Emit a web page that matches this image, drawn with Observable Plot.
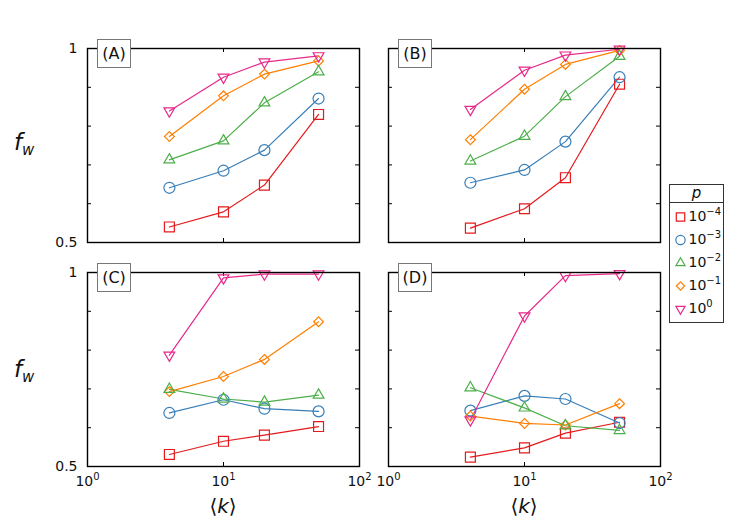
<!DOCTYPE html>
<html>
<head>
<meta charset="utf-8">
<script src="https://cdn.jsdelivr.net/npm/d3@7"></script>
<script src="https://cdn.jsdelivr.net/npm/@observablehq/plot@0.6"></script>
<style>
  body { margin: 0; background: #fff; }
  #fig { position: relative; width: 748px; height: 525px; background: #fff; font-family: "DejaVu Sans", sans-serif; overflow: hidden; }
  .panel { position: absolute; }
  .tag { position: absolute; box-sizing: border-box; width: 34px; height: 29px; border: 1.5px solid #777; background: #fff;
         font-size: 16px; display: flex; align-items: center; justify-content: center; color: #111; }
  .ylab { position: absolute; font-size: 23px; line-height: 1; color: #111; }
  .ylab i { font-style: italic; }
  .ylab sub { font-style: italic; font-size: 15px; vertical-align: -5px; }
  .xlab { position: absolute; font-size: 20px; line-height: 1; color: #111; transform: translateX(-50%); white-space: nowrap; }
  .xlab i { font-style: italic; }
  #legend { position: absolute; left: 669px; top: 184px; width: 55px; box-sizing: border-box; border: 1px solid #333; background: #fff; }
  #legend .ttl { height: 17px; border-bottom: 1px solid #333; text-align: center; font-style: italic; font-size: 15px; line-height: 16px; color: #111; }
</style>
</head>
<body>
<div id="fig"></div>
<script>
// ---- data ----
const kValues = [4, 10, 20, 50];
const pLabels = ["10⁻⁴", "10⁻³", "10⁻²", "10⁻¹", "10⁰"];
const panelNames = ["(A)", "(B)", "(C)", "(D)"];
const yTicks = [0.6, 0.7, 0.8, 0.9];
const yLabelTicks = [0.5, 1];
const xLabelTicks = [1, 10, 100];
const xTickLabels = ["10⁰", "10¹", "10²"];
const xInnerTicks = [10];

// rows: p = 1e-4, 1e-3, 1e-2, 1e-1, 1e0 ; columns: k = 4, 10, 20, 50
const panelA = [
  [0.540, 0.579, 0.648, 0.830],
  [0.641, 0.685, 0.738, 0.871],
  [0.713, 0.762, 0.860, 0.940],
  [0.773, 0.878, 0.934, 0.968],
  [0.839, 0.926, 0.965, 0.981]
];
const panelB = [
  [0.537, 0.587, 0.667, 0.908],
  [0.654, 0.687, 0.760, 0.926],
  [0.710, 0.774, 0.876, 0.980],
  [0.765, 0.895, 0.959, 0.995],
  [0.843, 0.944, 0.983, 0.998]
];
const panelC = [
  [0.531, 0.565, 0.581, 0.603],
  [0.638, 0.672, 0.649, 0.642],
  [0.699, 0.674, 0.666, 0.684],
  [0.693, 0.732, 0.776, 0.873],
  [0.787, 0.986, 0.996, 0.996]
];
const panelD = [
  [0.524, 0.548, 0.586, 0.614],
  [0.644, 0.682, 0.674, 0.612],
  [0.703, 0.651, 0.605, 0.593],
  [0.630, 0.611, 0.607, 0.662],
  [0.620, 0.888, 0.992, 0.997]
];

const colors = ["#e41a1c", "#377eb8", "#4daf4a", "#ff7f00", "#e7298a"];
const markerR = [5.6, 5.5, 4.0, 4.4, 4.0];

const sqrt3 = Math.sqrt(3);
const triangleDown = {
  draw(context, size) {
    const y = -Math.sqrt(size / (sqrt3 * 3));
    context.moveTo(0, -y * 2);
    context.lineTo(-sqrt3 * y, y);
    context.lineTo(sqrt3 * y, y);
    context.closePath();
  }
};
const symbols = ["square", "circle", "triangle", "diamond2", triangleDown];

function tidy(rows) {
  return rows.flatMap((vals, i) => vals.map((fw, j) => ({k: kValues[j], fw, p: pLabels[i], r: markerR[i]})));
}

const supMap = {"⁻": "−", "⁰": "0", "¹": "1", "²": "2", "³": "3", "⁴": "4", "⁵": "5", "⁶": "6", "⁷": "7", "⁸": "8", "⁹": "9"};
function supify(root, dy, size) {
  root.querySelectorAll("text").forEach(t => {
    const m = t.textContent.match(/^10([⁻⁰¹²³⁴⁵⁶⁷⁸⁹]+)$/);
    if (!m) return;
    t.textContent = "10";
    const ts = document.createElementNS("http://www.w3.org/2000/svg", "tspan");
    ts.setAttribute("dy", String(dy));
    ts.setAttribute("font-size", String(size));
    ts.textContent = [...m[1]].map(c => supMap[c]).join("");
    t.appendChild(ts);
  });
}

const fig = document.getElementById("fig");
const FW = 272, FH = 194;

function panel(rows, {left, top, width, height, mL, mR, mT, mB, showY, showX}) {
  const data = tidy(rows);
  const marks = [
    Plot.tickY(yTicks, {y: d => d, insetRight: FW - 4, stroke: "#000", strokeWidth: 1}),
    Plot.tickY(yTicks, {y: d => d, insetLeft: FW - 4, stroke: "#000", strokeWidth: 1}),
    Plot.tickX(xInnerTicks, {x: d => d, insetTop: FH - 4, stroke: "#000", strokeWidth: 1}),
    Plot.tickX(xInnerTicks, {x: d => d, insetBottom: FH - 4, stroke: "#000", strokeWidth: 1}),
    Plot.line(data, {x: "k", y: "fw", z: "p", stroke: "p", strokeWidth: 1.2}),
    Plot.dot(data, {x: "k", y: "fw", symbol: "p", stroke: "p", r: "r", strokeWidth: 1.2, fill: "none"}),
    Plot.frame({stroke: "#000", strokeWidth: 1.4})
  ];
  if (showY) marks.push(Plot.axisY(yLabelTicks, {anchor: "left", label: null, tickSize: 0, tickPadding: 10, tickFormat: d => String(d), fontSize: 14, fill: "#111"}));
  if (showX) marks.push(Plot.axisX(xLabelTicks, {anchor: "bottom", label: null, tickSize: 0, tickPadding: 10, tickFormat: d => xTickLabels[xLabelTicks.indexOf(d)], fontSize: 14, fill: "#111"}));
  const svg = Plot.plot({
    width, height,
    marginLeft: mL, marginRight: mR, marginTop: mT, marginBottom: mB,
    x: {type: "log", domain: [1, 100], axis: null},
    y: {domain: [0.5, 1], axis: null},
    r: {type: "identity"},
    color: {domain: pLabels, range: colors},
    symbol: {domain: pLabels, range: symbols},
    style: {fontFamily: "DejaVu Sans", fontSize: "14px", background: "transparent", overflow: "visible"},
    marks
  });
  supify(svg, -6, 10);
  svg.classList.add("panel");
  svg.style.left = left + "px";
  svg.style.top = top + "px";
  fig.appendChild(svg);
}

panel(panelA, {left: 0, top: 0, width: 374, height: 250, mL: 87, mR: 15, mT: 48, mB: 8, showY: true, showX: false});
panel(panelB, {left: 374, top: 0, width: 300, height: 250, mL: 14, mR: 14, mT: 48, mB: 8, showY: false, showX: false});
panel(panelC, {left: 0, top: 250, width: 374, height: 275, mL: 87, mR: 15, mT: 22, mB: 59, showY: true, showX: true});
panel(panelD, {left: 374, top: 250, width: 300, height: 275, mL: 14, mR: 14, mT: 22, mB: 59, showY: false, showX: true});

// panel tags
const tagPos = [[97, 39], [398, 39], [97, 263], [398, 263]];
panelNames.forEach((t, i) => {
  const d = document.createElement("div");
  d.className = "tag";
  d.textContent = t;
  d.style.left = tagPos[i][0] + "px";
  d.style.top = tagPos[i][1] + "px";
  fig.appendChild(d);
});

// y labels
[[14, 131], [14, 358]].forEach(([x, y]) => {
  const d = document.createElement("div");
  d.className = "ylab";
  d.innerHTML = "<i>f</i><sub>w</sub>";
  d.style.left = x + "px";
  d.style.top = y + "px";
  fig.appendChild(d);
});

// x labels
[[223, 496], [524, 496]].forEach(([x, y]) => {
  const d = document.createElement("div");
  d.className = "xlab";
  d.innerHTML = "⟨<i>k</i>⟩";
  d.style.left = x + "px";
  d.style.top = y + "px";
  fig.appendChild(d);
});

// legend
const leg = document.createElement("div");
leg.id = "legend";
const ttl = document.createElement("div");
ttl.className = "ttl";
ttl.textContent = "p";
leg.appendChild(ttl);
const legPlot = Plot.plot({
  width: 53, height: 119,
  margin: 0,
  x: {axis: null, domain: [0, 1]},
  y: {type: "band", domain: pLabels, axis: null, padding: 0},
  r: {type: "identity"},
  color: {domain: pLabels, range: colors},
  symbol: {domain: pLabels, range: symbols},
  style: {fontFamily: "DejaVu Sans", fontSize: "14px", background: "transparent", overflow: "visible"},
  marks: [
    Plot.dot(pLabels, {y: d => d, frameAnchor: "left", dx: 10, symbol: d => d, stroke: d => d, r: (d, i) => markerR[i] * 0.85, strokeWidth: 1.2, fill: "none"}),
    Plot.text(pLabels, {y: d => d, text: d => d, frameAnchor: "left", dx: 18, textAnchor: "start", fill: "#111", fontSize: 14})
  ]
});
supify(legPlot, -6, 10);
leg.appendChild(legPlot);
fig.appendChild(leg);
</script>
</body>
</html>
